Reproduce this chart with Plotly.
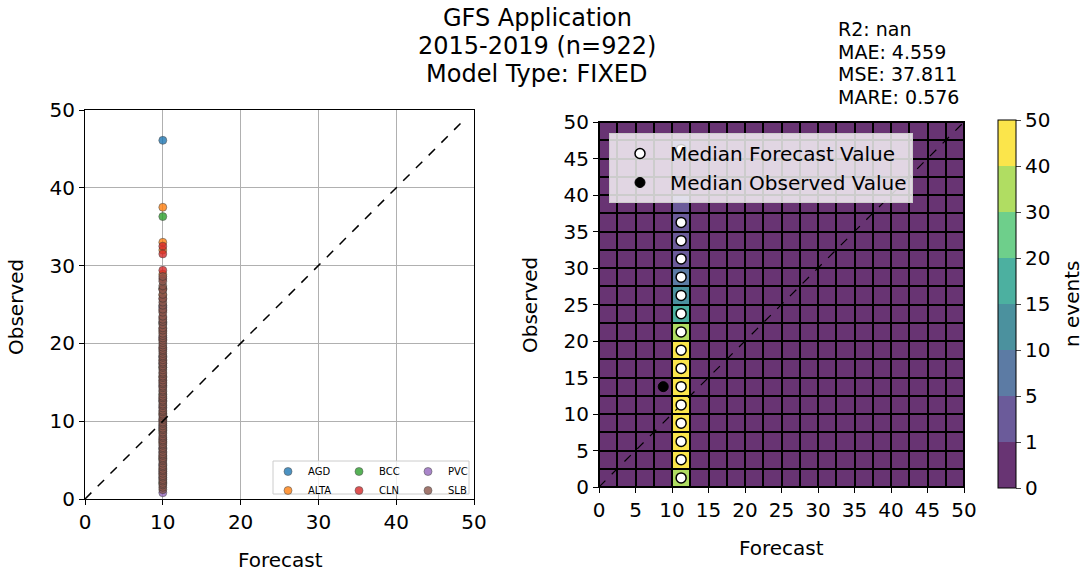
import numpy as np
import plotly.graph_objects as go

# Левый график: наблюдения по станциям (прогноз везде = 10)
forecast_value = 10.0
sites = ['AGD', 'ALTA', 'BCC', 'CLN', 'PVC', 'SLB']
site_colors = ['#1f77b4', '#ff7f0e', '#2ca02c', '#d62728', '#9467bd', '#8c564b']

agd_obs = [46.1, 24.8, 18.3, 12.6, 9.2, 6.5, 4.4, 2.7]
alta_obs = [37.5, 33.0, 32.0, 28.9, 26.2, 21.5, 15.7, 11.0, 7.3, 3.9]
bcc_obs = [36.3, 27.1, 22.6, 16.9, 13.4, 8.8, 5.2, 2.1]
cln_obs = [32.5, 31.5, 29.4, 28.3, 27.0, 25.7, 24.2, 23.3, 21.9, 20.5, 19.4, 17.8,
           15.2, 12.9, 10.1, 7.7, 5.5, 3.2]
pvc_obs = [24.6, 22.7, 20.8, 17.4, 14.6, 11.8, 9.5, 6.0, 3.5, 0.8]
slb_obs = [1.2, 1.5, 1.8, 2.0, 2.3, 2.5, 2.8, 3.0, 3.3, 3.6, 3.8, 4.1, 4.3, 4.6, 4.9,
           5.1, 5.3, 5.6, 5.8, 6.1, 6.4, 6.6, 6.9, 7.1, 7.4, 7.6, 7.9, 8.1, 8.4, 8.6,
           8.9, 9.1, 9.4, 9.7, 9.9, 10.2, 10.4, 10.7, 10.9, 11.2, 11.4, 11.7, 12.0,
           12.2, 12.5, 12.7, 13.0, 13.2, 13.5, 13.8, 14.0, 14.3, 14.5, 14.8, 15.0,
           15.3, 15.6, 15.8, 16.1, 16.3, 16.6, 16.9, 17.1, 17.4, 17.6, 17.9, 18.2,
           18.4, 18.7, 19.0, 19.2, 19.5, 19.8, 20.1, 20.4, 20.7, 21.0, 21.3, 21.7,
           22.0, 22.4, 22.8, 23.1, 23.5, 24.0, 24.4, 24.9, 25.3, 25.8, 26.3, 26.9,
           27.4, 28.0, 28.6]
site_obs = [agd_obs, alta_obs, bcc_obs, cln_obs, pvc_obs, slb_obs]
one_to_one_left = [0, 49]

# Правый график: 2D-гистограмма (ячейки 2.5 x 2.5)
bin_edges = [0, 2.5, 5, 7.5, 10, 12.5, 15, 17.5, 20, 22.5, 25, 27.5, 30, 32.5, 35,
             37.5, 40, 42.5, 45, 47.5, 50]
forecast_bin = 10.0  # левая граница столбца с данными
# число событий по наблюдаемым ячейкам (снизу вверх) в столбце 10-12.5
obs_bin_counts = [35, 95, 120, 135, 140, 125, 100, 70, 35, 18, 12, 7, 3, 3, 1, 1,
                  0, 0, 1, 0]
count_bounds = [0, 1, 5, 10, 15, 20, 30, 40, 50]
band_colors = ['#683473', '#6b5b9a', '#5c7ba4', '#4b919e', '#4cb0a0', '#6ecf8b',
               '#b0dd62', '#fbe54b']

median_fc_x = [11.25] * 16
median_fc_y = [1.25, 3.75, 6.25, 8.75, 11.25, 13.75, 16.25, 18.75, 21.25, 23.75,
               26.25, 28.75, 31.25, 33.75, 36.25, 46.25]
median_obs_x = [8.8]
median_obs_y = [13.75]
one_to_one_right = [0, 50]

title_lines = ['GFS Application', '2015-2019 (n=922)', 'Model Type: FIXED']
stat_lines = ['R2: nan', 'MAE: 4.559', 'MSE: 37.811', 'MARE: 0.576']

W, H = 1090, 577
FONT = 'DejaVu Sans'


def px_x(p):
    return p / W


def px_y(p):
    return 1 - p / H


fig = go.Figure()

# --- левый scatter
legend_ids = ['legend', 'legend', 'legend2', 'legend2', 'legend3', 'legend3']
for name, col, obs, lg in zip(sites, site_colors, site_obs, legend_ids):
    fig.add_trace(go.Scatter(
        x=[forecast_value] * len(obs), y=obs, mode='markers', name=name,
        marker=dict(color=col, size=8, opacity=0.8, line=dict(color='#333333', width=0.6)),
        xaxis='x', yaxis='y', legend=lg))

fig.add_trace(go.Scatter(x=one_to_one_left, y=one_to_one_left, mode='lines',
                         line=dict(color='black', dash='dash', width=1.5),
                         showlegend=False, xaxis='x', yaxis='y'))

# --- правый heatmap
counts = np.array(obs_bin_counts)
bands = np.digitize(counts, count_bounds[1:-1])
n = len(bin_edges) - 1
z = np.zeros((n, n))
col_idx = bin_edges.index(forecast_bin)
z[:, col_idx] = bands

cscale = []
for i, c in enumerate(band_colors):
    cscale.append([i / len(band_colors), c])
    cscale.append([(i + 1) / len(band_colors), c])

fig.add_trace(go.Heatmap(
    x=bin_edges, y=bin_edges, z=z, colorscale=cscale, zmin=-0.5, zmax=7.5,
    xgap=2, ygap=2, xaxis='x2', yaxis='y2', showlegend=False,
    colorbar=dict(
        x=px_x(988), xanchor='left', y=px_y(304), yanchor='middle',
        len=388, lenmode='pixels', thickness=18, thicknessmode='pixels',
        tickvals=[i - 0.5 for i in range(len(count_bounds))],
        ticktext=[str(b) for b in count_bounds],
        ticks='outside', ticklen=5, tickfont=dict(size=20, color='black'),
        outlinecolor='black', outlinewidth=1)))

fig.add_trace(go.Scatter(x=one_to_one_right, y=one_to_one_right, mode='lines',
                         line=dict(color='black', dash='dash', width=1.2),
                         showlegend=False, xaxis='x2', yaxis='y2'))

fig.add_trace(go.Scatter(x=median_fc_x, y=median_fc_y, mode='markers',
                         name='Median Forecast Value',
                         marker=dict(color='white', size=10, line=dict(color='black', width=1.5)),
                         xaxis='x2', yaxis='y2', legend='legend4'))
fig.add_trace(go.Scatter(x=median_obs_x, y=median_obs_y, mode='markers',
                         name='Median Observed Value',
                         marker=dict(color='black', size=10, line=dict(color='black', width=1)),
                         xaxis='x2', yaxis='y2', legend='legend4'))

axis_common = dict(range=[0, 50], showline=True, linecolor='black', linewidth=1,
                   mirror=True, ticks='outside', ticklen=5, tickcolor='black',
                   tickfont=dict(size=20, color='black'), zeroline=False,
                   fixedrange=True, automargin=False)

small_legend = dict(font=dict(size=10, color='black'), bgcolor='rgba(0,0,0,0)',
                    yanchor='top', xanchor='left', tracegroupgap=0)

fig.update_layout(
    width=W, height=H,
    margin=dict(l=0, r=0, t=0, b=0, autoexpand=False),
    paper_bgcolor='white', plot_bgcolor='white',
    font=dict(family=FONT, color='black'),
    xaxis=dict(domain=[px_x(85), px_x(474)], anchor='y', dtick=10,
               showgrid=True, gridcolor='#b0b0b0', gridwidth=1, **axis_common),
    yaxis=dict(domain=[px_y(499), px_y(110)], anchor='x', dtick=10,
               showgrid=True, gridcolor='#b0b0b0', gridwidth=1, **axis_common),
    xaxis2=dict(domain=[px_x(599), px_x(964)], anchor='y2', dtick=5,
                showgrid=False, **axis_common),
    yaxis2=dict(domain=[px_y(487), px_y(122)], anchor='x2', dtick=5,
                showgrid=False, **axis_common),
    legend=dict(x=px_x(268), y=px_y(457), **small_legend),
    legend2=dict(x=px_x(339), y=px_y(457), **small_legend),
    legend3=dict(x=px_x(408), y=px_y(457), **small_legend),
    legend4=dict(x=px_x(609), y=px_y(133), xanchor='left', yanchor='top',
                 font=dict(size=20, color='black'), bgcolor='rgba(255,255,255,0.8)',
                 bordercolor='#cccccc', borderwidth=1, itemwidth=50),
)

# чёрная подложка для границ ячеек + рамка легенды слева
fig.add_shape(type='rect', xref='x2', yref='y2', x0=0, x1=50, y0=0, y1=50,
              fillcolor='black', line=dict(width=0), layer='below')
fig.add_shape(type='rect', xref='paper', yref='paper',
              x0=px_x(273), x1=px_x(469), y0=px_y(494), y1=px_y(461),
              fillcolor='rgba(255,255,255,0.8)', line=dict(color='#cccccc', width=1))

# заголовок и метрики
for i, s in enumerate(title_lines):
    fig.add_annotation(text=s, xref='paper', yref='paper', x=px_x(537),
                       y=px_y(18 + i * 28), xanchor='center', yanchor='middle',
                       showarrow=False, font=dict(size=24))
for i, s in enumerate(stat_lines):
    fig.add_annotation(text=s, xref='paper', yref='paper', x=px_x(836),
                       y=px_y(29 + i * 22.5), xanchor='left', yanchor='middle',
                       showarrow=False, font=dict(size=19))

# подписи осей
axis_labels = [('Forecast', 280, 560, 0), ('Observed', 16, 307, -90),
               ('Forecast', 781, 548, 0), ('Observed', 530, 305, -90),
               ('n events', 1072, 304, -90)]
for txt, ax_, ay_, ang in axis_labels:
    fig.add_annotation(text=txt, xref='paper', yref='paper', x=px_x(ax_), y=px_y(ay_),
                       xanchor='center', yanchor='middle', textangle=ang,
                       showarrow=False, font=dict(size=20))

# убираем отступ body, чтобы картинка совпала с окном 1090x577
fig.write_html("out.html", config={'displayModeBar': False},
               post_script="document.body.style.margin='0';")
